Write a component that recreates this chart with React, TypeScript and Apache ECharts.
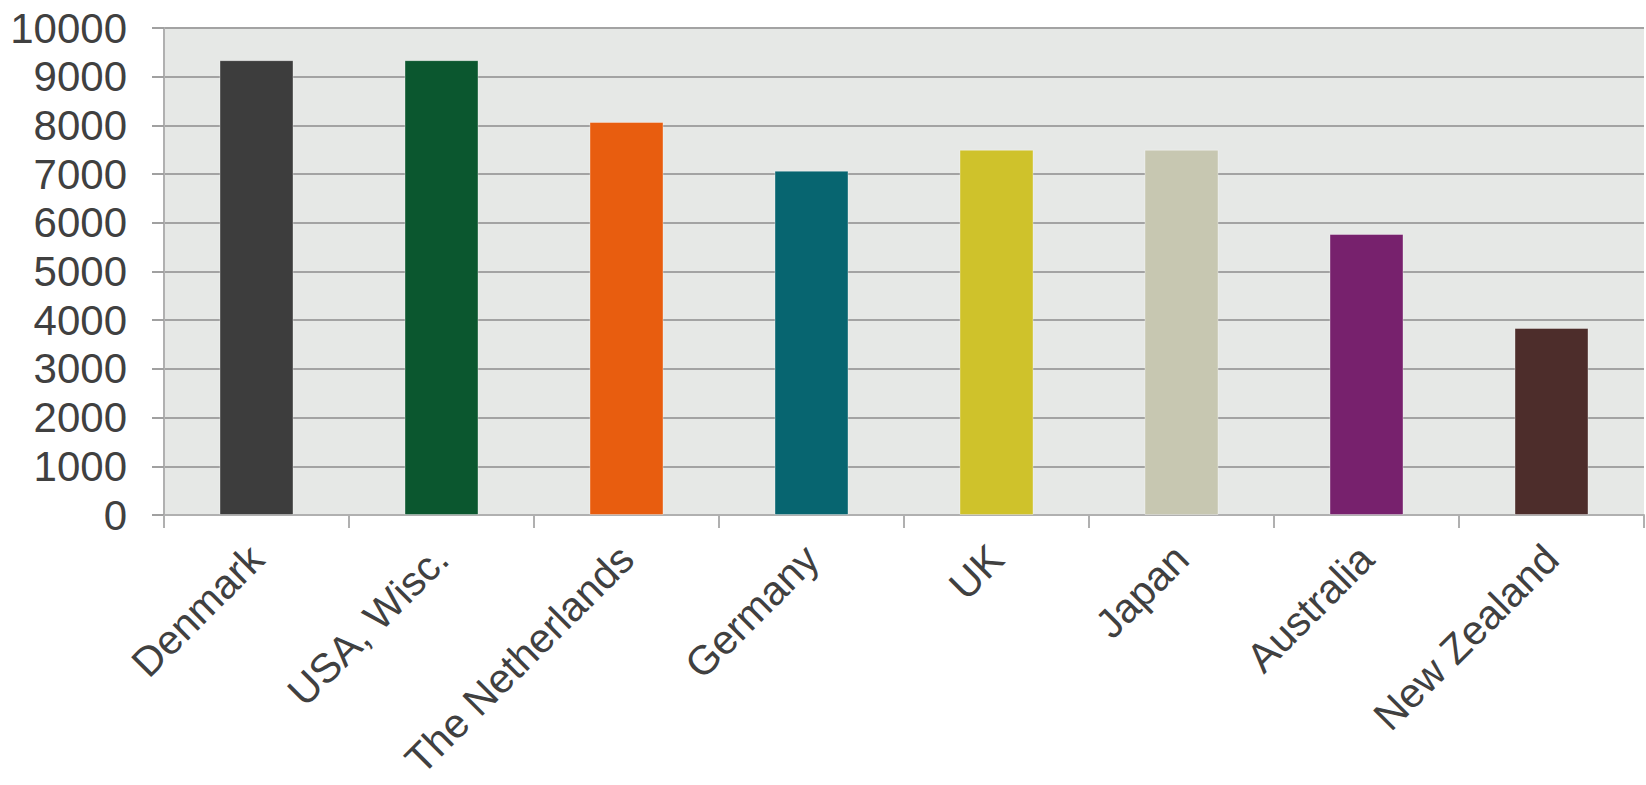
import React, { useEffect, useRef } from "react";
import * as echarts from "echarts";

const categories = ["Denmark", "USA, Wisc.", "The Netherlands", "Germany", "UK", "Japan", "Australia", "New Zealand"];
const values = [9340, 9340, 8070, 7070, 7500, 7500, 5770, 3840];
const barColors = ["#3d3d3d", "#0b572f", "#e85d0f", "#076570", "#cfc22b", "#c7c7b1", "#77216d", "#4d2d2b"];
const yTicks = { min: 0, max: 10000, interval: 1000 };

export default function App() {
  const ref = useRef<HTMLDivElement>(null);
  useEffect(() => {
    if (!ref.current) return;
    const chart = echarts.init(ref.current, null, { renderer: "svg" });
    chart.setOption({
      animation: false,
      grid: {
        left: 164,
        right: 2,
        top: 28,
        bottom: 270,
        outerBoundsMode: "none",
        containLabel: false,
        show: true,
        backgroundColor: "#e6e8e6",
        borderWidth: 0,
      },
      xAxis: {
        type: "category",
        data: categories,
        axisLine: { show: true, lineStyle: { color: "#b0b0b0", width: 2 } },
        axisTick: { show: true, length: 13, lineStyle: { color: "#b0b0b0", width: 2 }, alignWithLabel: false },
        axisLabel: {
          rotate: 45,
          interval: 0,
          margin: 37,
          fontFamily: "Liberation Sans, Arial, sans-serif",
          fontSize: 41,
          color: "#404040",
        },
      },
      yAxis: {
        type: "value",
        min: yTicks.min,
        max: yTicks.max,
        interval: yTicks.interval,
        axisLine: { show: true, lineStyle: { color: "#b0b0b0", width: 2 } },
        axisTick: { show: true, inside: false, length: 12, lineStyle: { color: "#a0a0a0", width: 2 } },
        splitLine: { show: true, lineStyle: { color: "#a3a3a3", width: 2 } },
        axisLabel: {
          margin: 37,
          fontFamily: "Liberation Sans, Arial, sans-serif",
          fontSize: 42,
          color: "#404040",
          formatter: (v: number) => String(v),
        },
      },
      series: [
        {
          type: "bar",
          barWidth: "40%",
          data: values.map((v, i) => ({
            value: v,
            itemStyle: { color: barColors[i], borderColor: "rgba(255,255,255,0.35)", borderWidth: 1 },
          })),
        },
      ],
    });
    return () => chart.dispose();
  }, []);
  return <div ref={ref} style={{ position: "fixed", left: 0, top: 0, width: 1646, height: 785, background: "#ffffff" }} />;
}
